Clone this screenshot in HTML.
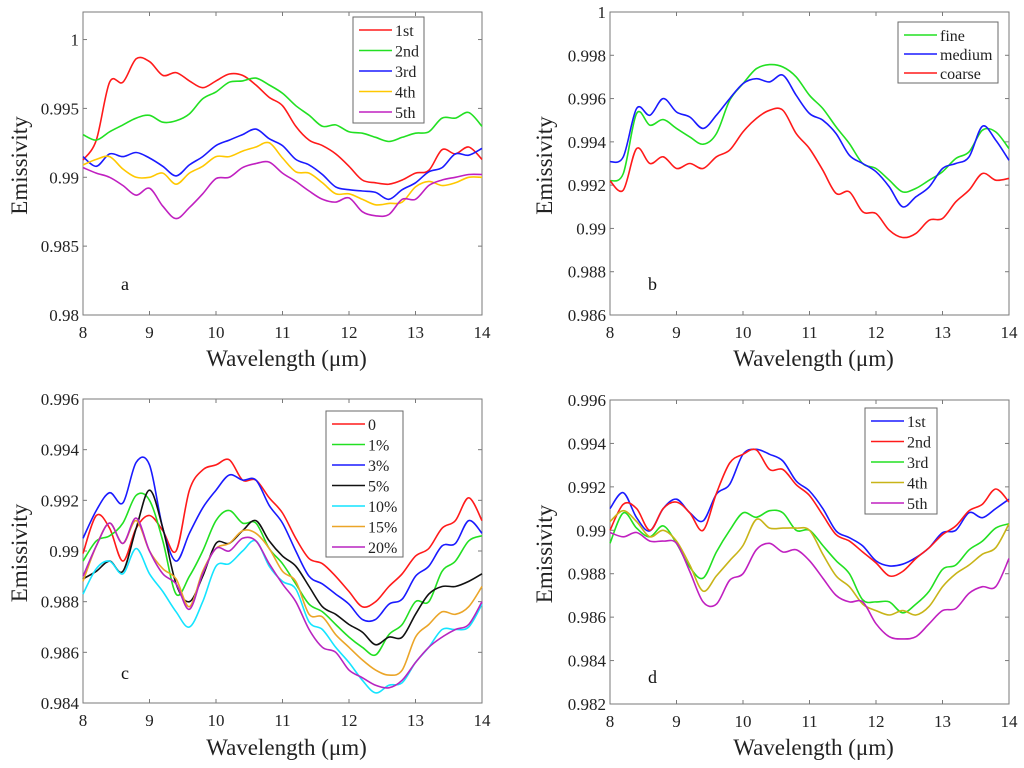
<!DOCTYPE html>
<html><head><meta charset="utf-8"><style>
html,body{margin:0;padding:0;background:#fff;}
svg{display:block;font-family:"Liberation Serif",serif;}
</style></head><body>
<svg id="fig" width="1024" height="768" viewBox="0 0 1024 768" xmlns="http://www.w3.org/2000/svg"></svg>
<script>
// ---- shared wavelength categories (µm) ----
const wl = [8,8.2,8.4,8.6,8.8,9,9.2,9.4,9.6,9.8,10,10.2,10.4,10.6,10.8,11,11.2,11.4,11.6,11.8,12,12.2,12.4,12.6,12.8,13,13.2,13.4,13.6,13.8,14];
const xTicks = [8,9,10,11,12,13,14];

// ---- panel a ----
const aNames = ["1st","2nd","3rd","4th","5th"];
const a1 = [.99125,.9927,.9969,.9969,.9986,.9984,.9974,.9976,.9970,.9965,.9970,.9975,.9974,.9967,.9958,.9952,.9937,.9927,.9923,.9917,.9908,.9898,.9896,.9895,.9898,.9903,.9905,.9920,.9917,.9922,.9913];
const a2 = [.9931,.9927,.9933,.9938,.9943,.9945,.9940,.9941,.9946,.9957,.9962,.9969,.9970,.9972,.9967,.9961,.9952,.9945,.9937,.9938,.9933,.9932,.9929,.9926,.9929,.9932,.9933,.9943,.9943,.9947,.9937];
const a3 = [.9915,.9908,.9917,.9915,.9918,.9914,.9908,.9901,.9909,.9915,.9923,.9927,.9931,.9935,.9928,.9923,.9913,.9909,.9902,.9893,.9891,.9890,.9889,.9884,.9891,.9896,.9904,.9907,.9917,.9916,.9921];
const a4 = [.9909,.9913,.9915,.9906,.9900,.9900,.9903,.9895,.9903,.9908,.9915,.9915,.9919,.9922,.9925,.9914,.9904,.9903,.9896,.9888,.9888,.9884,.9880,.9881,.9882,.9893,.9897,.9894,.9896,.9900,.9900];
const a5 = [.9907,.9903,.9900,.9894,.9887,.9892,.9879,.9870,.9878,.9888,.9899,.9900,.9907,.9910,.9911,.9903,.9897,.9890,.9884,.9882,.9885,.9875,.9872,.9873,.9884,.9884,.9894,.9898,.9900,.9902,.9902];
const aYTicks = [0.98,0.985,0.99,0.995,1];
const aYLabels = ["0.98","0.985","0.99","0.995","1"];

// ---- panel b ----
const bNames = ["fine","medium","coarse"];
const bFine = [.9922,.99254,.99531,.99477,.99503,.99462,.99423,.99389,.99438,.99592,.99669,.99738,.99757,.99746,.997,.99615,.99554,.99469,.99392,.993,.99277,.99223,.99169,.99185,.99223,.99262,.99323,.99354,.99454,.99446,.99369];
const bMed = [.99308,.99331,.99554,.99523,.996,.99538,.99515,.99462,.99523,.996,.99669,.99692,.99677,.99708,.99615,.99531,.995,.99438,.99338,.993,.99262,.99192,.991,.99146,.99192,.99277,.993,.99331,.99472,.99408,.99315];
const bCoarse = [.9922,.99177,.99369,.993,.99331,.99277,.993,.99277,.99331,.99362,.99446,.99508,.99546,.99546,.99438,.99369,.99269,.99162,.99169,.99077,.99069,.98992,.98958,.98977,.99038,.99046,.99123,.99177,.99254,.99223,.99231];
const bYTicks = [0.986,0.988,0.99,0.992,0.994,0.996,0.998,1];
const bYLabels = ["0.986","0.988","0.99","0.992","0.994","0.996","0.998","1"];

// ---- panel c ----
const cNames = ["0","1%","3%","5%","10%","15%","20%"];
const c0 = [.9899,.9914,.9909,.9896,.9909,.9914,.9908,.9900,.9924,.9932,.9934,.9936,.9928,.9928,.9921,.9915,.9905,.9897,.9895,.9890,.9884,.9878,.9880,.9886,.9891,.9898,.9901,.9909,.9912,.9921,.9912];
const c1 = [.9896,.9904,.9906,.9911,.9922,.9920,.9904,.9883,.9890,.9900,.9912,.9916,.9911,.9911,.9901,.9895,.9887,.9879,.9876,.9871,.9866,.9862,.9859,.9867,.9871,.9880,.9880,.9892,.9896,.9904,.9906];
const c3 = [.9905,.9916,.9923,.9919,.9935,.9934,.9909,.9896,.9907,.9917,.9924,.9930,.9928,.9928,.9918,.9911,.9900,.9890,.9887,.9883,.9879,.9873,.9873,.9879,.9881,.9890,.9894,.9902,.9903,.9912,.9907];
const c5 = [.9889,.9892,.9896,.9892,.9909,.9924,.9909,.9887,.9880,.9890,.9903,.9903,.9908,.9912,.9904,.9898,.9894,.9886,.9878,.9875,.9871,.9868,.9863,.9866,.9866,.9875,.9883,.9886,.9886,.9888,.9891];
const c10 = [.9883,.9893,.9896,.9891,.9901,.9891,.9884,.9876,.9870,.9880,.9894,.9895,.9900,.9904,.9894,.9888,.9885,.9872,.9869,.9862,.9856,.9849,.9844,.9847,.9848,.9856,.9862,.9869,.9869,.9870,.9879];
const c15 = [.9888,.9902,.9911,.9903,.9912,.9900,.9893,.9889,.9878,.9892,.9901,.9903,.9908,.9907,.9901,.9892,.9888,.9875,.9874,.9867,.9862,.9857,.9853,.9851,.9853,.9866,.9871,.9876,.9875,.9878,.9886];
const c20 = [.9890,.9902,.9911,.9903,.9913,.9900,.9891,.9887,.9877,.9891,.9901,.9900,.9905,.9904,.9895,.9887,.9880,.9869,.9862,.9860,.9853,.9850,.9847,.9846,.9849,.9856,.9862,.9866,.9869,.9871,.9880];
const cYTicks = [0.984,0.986,0.988,0.99,0.992,0.994,0.996];
const cYLabels = ["0.984","0.986","0.988","0.99","0.992","0.994","0.996"];

// ---- panel d ----
const dNames = ["1st","2nd","3rd","4th","5th"];
const d1 = [.9910,.99173,.99058,.98997,.9910,.99143,.99081,.99043,.99166,.99212,.9935,.99373,.9935,.99319,.99227,.99181,.9910,.98997,.98966,.98928,.98859,.98836,.98844,.98874,.9892,.98989,.9900,.99081,.99058,.9910,.99143];
const d2 = [.9900,.9912,.9910,.9900,.9910,.9913,.9908,.9900,.9917,.9931,.9935,.9937,.9928,.9928,.9921,.9916,.9907,.9898,.9895,.9890,.9885,.9879,.9881,.9887,.9892,.9898,.9902,.9909,.9912,.9919,.9913];
const d3 = [.9894,.9908,.9901,.9897,.9902,.9894,.9883,.9878,.9890,.9900,.9908,.9906,.9909,.9908,.9900,.9900,.9893,.9886,.9880,.9868,.9867,.9867,.9862,.9866,.9872,.9882,.9884,.9891,.9895,.9901,.9903];
const d4 = [.9904,.9909,.9904,.9897,.9900,.9895,.9884,.9872,.9879,.9886,.9893,.9905,.9901,.9901,.9901,.9900,.9889,.9879,.9874,.9866,.9863,.9861,.9863,.9861,.9865,.9874,.9880,.9884,.9889,.9892,.9903];
const d5 = [.9899,.9897,.9899,.9895,.9895,.9894,.9881,.9867,.9866,.9877,.9880,.9891,.9894,.9890,.9891,.9886,.9878,.9870,.9867,.9867,.9857,.9851,.9850,.9851,.9857,.9863,.9864,.9871,.9874,.9874,.9887];
const dYTicks = [0.982,0.984,0.986,0.988,0.99,0.992,0.994,0.996];
const dYLabels = ["0.982","0.984","0.986","0.988","0.99","0.992","0.994","0.996"];

const NS = "http://www.w3.org/2000/svg";
const svg = document.getElementById("fig");
function mk(tag, attrs, parent){
  const e = document.createElementNS(NS, tag);
  for (const k in attrs) e.setAttribute(k, attrs[k]);
  (parent||svg).appendChild(e);
  return e;
}
// Catmull-Rom smoothing through the data points
function smoothPath(pts){
  let d = "M" + pts[0][0].toFixed(1) + "," + pts[0][1].toFixed(1);
  for (let i = 0; i < pts.length - 1; i++){
    const p0 = pts[Math.max(0, i-1)], p1 = pts[i], p2 = pts[i+1], p3 = pts[Math.min(pts.length-1, i+2)];
    const c1x = p1[0] + (p2[0]-p0[0])/6, c1y = p1[1] + (p2[1]-p0[1])/6;
    const c2x = p2[0] - (p3[0]-p1[0])/6, c2y = p2[1] - (p3[1]-p1[1])/6;
    d += "C" + c1x.toFixed(1) + "," + c1y.toFixed(1) + " " + c2x.toFixed(1) + "," + c2y.toFixed(1) + " " + p2[0].toFixed(1) + "," + p2[1].toFixed(1);
  }
  return d;
}

const panels = [
  {id:"a", L:83, R:482, T:12, B:315, ymin:0.98, ymax:1.002, yt:aYTicks, yl:aYLabels,
   series:[a1,a2,a3,a4,a5], names:aNames, colors:["#ff1a1a","#22e022","#1a1aff","#ffc800","#c020c0"],
   leg:{x:353,y:17,w:71,h:106,row:20.5}, letter:[121,290], ylabX:20, xlabY:366},
  {id:"b", L:610, R:1009, T:12, B:315, ymin:0.986, ymax:1.0, yt:bYTicks, yl:bYLabels,
   series:[bFine,bMed,bCoarse], names:bNames, colors:["#22e022","#1a1aff","#ff1a1a"],
   leg:{x:898,y:22,w:100,h:61,row:19}, letter:[648,290], ylabX:545, xlabY:366},
  {id:"c", L:83, R:482, T:399, B:703, ymin:0.984, ymax:0.996, yt:cYTicks, yl:cYLabels,
   series:[c0,c1,c3,c5,c10,c15,c20], names:cNames, colors:["#ff1a1a","#22e022","#1a1aff","#111111","#14e4ff","#eba528","#b825c0"],
   leg:{x:326,y:411,w:77,h:146,row:20.5}, letter:[121,679], ylabX:20, xlabY:755},
  {id:"d", L:610, R:1009, T:400, B:704, ymin:0.982, ymax:0.996, yt:dYTicks, yl:dYLabels,
   series:[d1,d2,d3,d4,d5], names:dNames, colors:["#1a1aff","#ff1a1a","#22e022","#c8b418","#c020c0"],
   leg:{x:865,y:408,w:72,h:106,row:20.5}, letter:[648,683], ylabX:545, xlabY:755}
];

panels.forEach(p => {
  const g = mk("g", {});
  
  
  const xs = v => p.L + (v - 8) / 6 * (p.R - p.L);
  const ys = v => p.B - (v - p.ymin) / (p.ymax - p.ymin) * (p.B - p.T);

  const box = mk("rect", {x:p.L, y:p.T, width:p.R-p.L, height:p.B-p.T, fill:"#fff", stroke:"#7a7a7a", "stroke-width":1}, g);
  
  

  xTicks.forEach(t => {
    const x = xs(t);
    mk("line", {x1:x, y1:p.B, x2:x, y2:p.B-4, stroke:"#7a7a7a"}, g);
    mk("line", {x1:x, y1:p.T, x2:x, y2:p.T+4, stroke:"#7a7a7a"}, g);
    const tx = mk("text", {x:x, y:p.B+23, "text-anchor":"middle", "font-size":17, fill:"#222"}, g);
    tx.textContent = t;
    
    
  });
  p.yt.forEach((t, i) => {
    const y = ys(t);
    mk("line", {x1:p.L, y1:y, x2:p.L+4, y2:y, stroke:"#7a7a7a"}, g);
    mk("line", {x1:p.R, y1:y, x2:p.R-4, y2:y, stroke:"#7a7a7a"}, g);
    const tx = mk("text", {x:p.L-4, y:y+6, "text-anchor":"end", "font-size":17, fill:"#222"}, g);
    tx.textContent = p.yl[i];
    
    
  });

  p.series.forEach((s, i) => {
    const pts = s.map((v, j) => [xs(wl[j]), ys(v)]);
    const path = mk("path", {d:smoothPath(pts), fill:"none", stroke:p.colors[i], "stroke-width":1.6, "stroke-linejoin":"round"}, g);
    
    
  });

  const lg = mk("g", {}, g);
  
  
  mk("rect", {x:p.leg.x, y:p.leg.y, width:p.leg.w, height:p.leg.h, fill:"#fff", stroke:"#6a6a6a"}, lg);
  p.names.forEach((n, i) => {
    const y = p.leg.y + 13 + i * p.leg.row;
    const ln = mk("line", {x1:p.leg.x+6, y1:y, x2:p.leg.x+39, y2:y, stroke:p.colors[i], "stroke-width":1.6}, lg);
    
    
    const tx = mk("text", {x:p.leg.x+42, y:y+6, "font-size":16, fill:"#222"}, lg);
    tx.textContent = n;
    
    
  });

  const let_ = mk("text", {x:p.letter[0], y:p.letter[1], "font-size":18, fill:"#111"}, g);
  let_.textContent = p.id;
  
  

  const xl = mk("text", {x:(p.L+p.R)/2 + 4, y:p.xlabY, "text-anchor":"middle", "font-size":23, fill:"#222"}, g);
  xl.textContent = "Wavelength (\u03bcm)";
  
  

  const cy = (p.T + p.B) / 2 + 2;
  const yl = mk("text", {x:p.ylabX + 7, y:cy, "text-anchor":"middle", "font-size":23, fill:"#222", transform:"rotate(-90 " + (p.ylabX + 7) + " " + cy + ")"}, g);
  yl.textContent = "Emissivity";
  
  
});
</script>
</body></html>
